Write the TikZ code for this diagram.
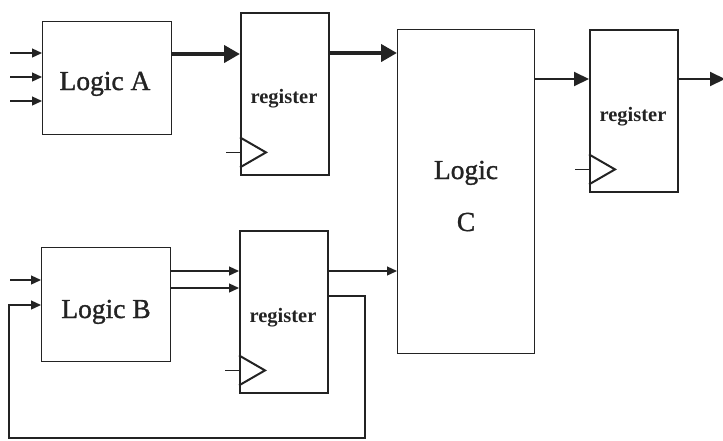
\documentclass[tikz,border=0pt]{standalone}
\usepackage{fontspec}
\setmainfont{Liberation Serif}
\newfontfamily\heavyserif[FakeBold=1.2]{Liberation Serif}
\usetikzlibrary{arrows.meta,calc}
\definecolor{ink}{RGB}{35,35,35}
\begin{document}
\begin{tikzpicture}[x=1pt,y=-1pt,
  logicbox/.style={draw=ink,line width=1.3pt,inner sep=0pt,anchor=north west},
  regbox/.style={draw=ink,line width=2.4pt,inner sep=0pt,anchor=north west,minimum width=88pt,minimum height=162pt},
  logictxt/.style={anchor=base,inner sep=0pt,text=ink,font=\heavyserif\fontsize{27.5}{30}\selectfont},
  regtxt/.style={anchor=base,inner sep=0pt,text=ink,font=\fontsize{20.5}{23}\selectfont\bfseries},
  thinarr/.style={draw=ink,line width=1.3pt,-{Triangle[length=10pt,width=9pt]}},
  midarr/.style={draw=ink,line width=2pt,-{Triangle[length=15pt,width=14pt]}},
  thickarr/.style={draw=ink,line width=4.5pt,-{Triangle[length=16pt,width=17pt]}},
  clk/.style={draw=ink,line width=2pt,line join=miter},
  clkline/.style={draw=ink,line width=1.2pt},
  fbline/.style={draw=ink,line width=1.3pt}
]
\useasboundingbox (0,0) rectangle (723,440);

% boxes
\node[logicbox,minimum width=129pt,minimum height=113pt] (LA) at (42,21) {};
\node[logicbox,minimum width=129pt,minimum height=114pt] (LB) at (41,247) {};
\node[logicbox,minimum width=137pt,minimum height=324pt] (LC) at (397,29) {};
\node[regbox] (R1) at (240,12) {};
\node[regbox] (R2) at (239,230) {};
\node[regbox] (R3) at (589,29) {};

% texts
\node[logictxt] (tLA) at (105,90) {Logic A};
\node[logictxt] (tLB) at (106,318) {Logic B};
\node[logictxt] (tLC1) at (466,179) {Logic};
\node[logictxt] (tLC2) at (466,231) {C};
\node[regtxt] (tR1) at (284,103) {register};
\node[regtxt] (tR2) at (283,322) {register};
\node[regtxt] (tR3) at (633,121) {register};

% clock triangles
\foreach \r in {R1,R2,R3}{
  \draw[clk] ([yshift=39pt]\r.south west) -- ([shift={(26pt,24pt)}]\r.south west) -- ([yshift=9pt]\r.south west);
  \draw[clkline] ([shift={(-14pt,24pt)}]\r.south west) -- ([yshift=24pt]\r.south west);
}

% inputs of Logic A
\coordinate (ia1) at (10,53);
\coordinate (ia2) at (10,77);
\coordinate (ia3) at (10,101);
\foreach \c in {ia1,ia2,ia3}{ \draw[thinarr] (\c) -- (\c -| LA.west); }

% input of Logic B
\coordinate (ib1) at (10,280);
\draw[thinarr] (ib1) -- (ib1 -| LB.west);

% Logic A -> R1
\coordinate (a1) at ([yshift=-33pt]LA.north east);
\draw[thickarr] (a1) -- (a1 -| R1.west);
% R1 -> Logic C
\coordinate (r1o) at ([yshift=-41pt]R1.north east);
\draw[thickarr] (r1o) -- (r1o -| LC.west);

% Logic B -> R2
\coordinate (b1) at ([yshift=-24pt]LB.north east);
\coordinate (b2) at ([yshift=-41pt]LB.north east);
\draw[thinarr] (b1) -- (b1 -| R2.west);
\draw[thinarr] (b2) -- (b2 -| R2.west);

% R2 -> Logic C
\coordinate (r2o) at ([yshift=-41pt]R2.north east);
\draw[thinarr] (r2o) -- (r2o -| LC.west);

% feedback R2 -> Logic B
\coordinate (r2f) at ([yshift=-66pt]R2.north east);
\coordinate (fbr) at (365,438);
\coordinate (fbl) at (9,438);
\coordinate (lbin) at ([yshift=-58pt]LB.north west);
\draw[fbline] (r2f) -- (r2f -| fbr) -- (fbr) -- (fbl) |- ([xshift=-10pt]lbin);
\draw[thinarr] ([xshift=-10.6pt]lbin) -- (lbin);

% Logic C -> R3
\coordinate (co) at ([yshift=-50pt]LC.north east);
\draw[midarr] (co) -- (co -| R3.west);
% R3 output
\coordinate (r3o) at ([yshift=-50pt]R3.north east);
\coordinate (outr) at (725,79);
\draw[midarr] (r3o) -- (outr);
\end{tikzpicture}
\end{document}
